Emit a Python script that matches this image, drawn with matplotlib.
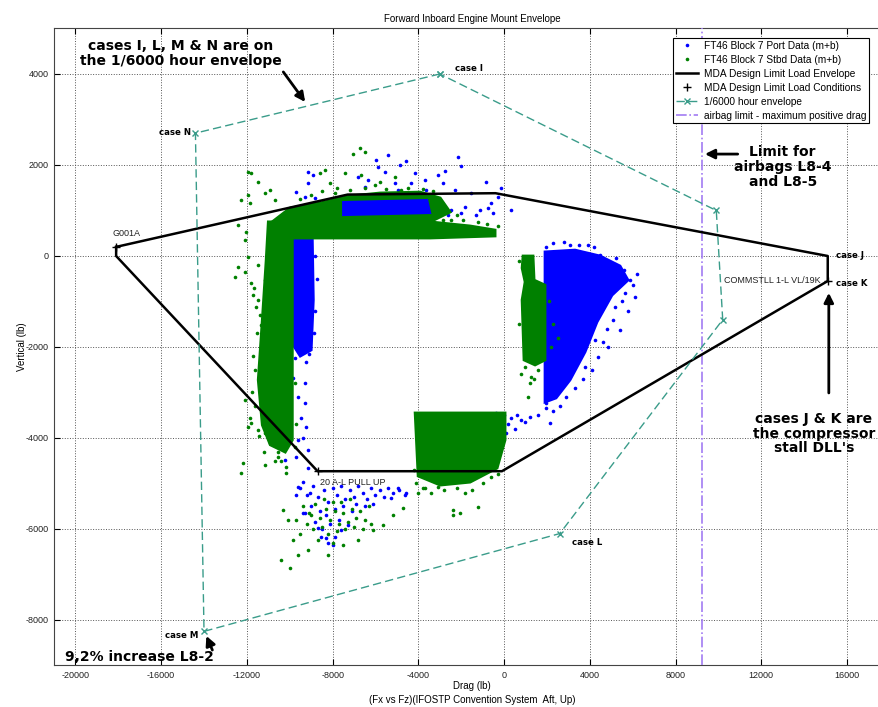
import matplotlib
matplotlib.use('Agg')
import matplotlib.pyplot as plt

plt.rcParams['font.family'] = ['Liberation Sans', 'DejaVu Sans']
plt.rcParams['axes.unicode_minus'] = False

# MDA design limit load envelope (lb)
dll_x = [-18100, -7300, -400, 15100, 15100, -100, -8700, -18100, -18100]
dll_y = [200, 1350, 1380, 0, -550, -4730, -4730, 0, 200]
# design limit load conditions
cond_x = [-18100, 15100, -8700]
cond_y = [200, -550, -4730]

# 1/6000 hour envelope (cases I, N, M, L ...)
hr_x = [-3000, -14400, -14000, 2600, 10200, 9900, -3000]
hr_y = [4000, 2700, -8250, -6100, -1400, 1000, 4000]

airbag_x = 9250

# dense regions of the flight data (outlines)
port_dense = [
    ([-9840, -8950, -8900, -9000, -9510, -9840], [440, 440, -965, -2065, -2200, -1955]),
    ([1910, 3310, 4475, 5410, 5780, 5035, 4335, 3775, 3075, 2425, 1910],
     [90, 130, 0, -220, -530, -860, -1450, -2110, -2725, -3120, -3210]),
]
port_band = ([-7510, -3590, -3450, -7510], [1185, 1230, 945, 900])
stbd_dense = [
    ([-11000, -9880, -9880, -10210, -10910, -11280, -11470, -11280, -11100],
     [750, 750, -4045, -4310, -4150, -3715, -2725, -1405, -90]),
    ([-10820, -9980, -8580, -7180, -5780, -3920, -2980, -2520, -3450, -1585, -420, -420, -3450, -9880, -9880],
     [750, 1055, 1165, 1320, 1385, 1405, 1275, 965, 750, 660, 570, 440, 395, 395, 660]),
    ([885, 1350, 1400, 1910, 1910, 1445, 930, 840, 980, 840],
     [0, 0, -530, -640, -2285, -2395, -2285, -965, -570, -265]),
    ([-4150, 45, 45, -325, -1585, -2980, -4010],
     [-3450, -3450, -4045, -4660, -4970, -5035, -4835]),
]

# scattered points, FT46 Block 7 port data (m+b)
port_x = [-5420, -2150, -2010, -4580, -5980, -4860, -5890, -4160, -2760, -3080,
          -9160, -8930, -5560, -6360, -5090, -4350, -3690, -3640, -2850, -2290,
          -1540, -840, -280, -140, 330, -610, -1820, -2480, -3080, -9720,
          -9300, -8830, -9160, -6820, -6500, -4950, -4160, -1120, -750,
          -7000, -6000, -5000, -4200, -3300, -2600, -2000, -1300, -500, -8000, -8500,
          -9770, -9860, -9630, -9300, -9490, -9250, -9630, -9160, -9720, -9390,
          -11360, -11030, -10090, -9300, -9250, -10230, -9160, -9390,
          -9630, -9070, -4950, -4580, -5280, -8690, -8220, -8550, -7620, -7290,
          -9390, -2760, -7900,
          -9500, -9200, -8900, -8700, -8400, -8200, -8000, -7800, -7600, -7400,
          -7200, -7000, -6800, -6600, -6400, -6200, -6000, -5800, -5600, -5400,
          -5200, -9000, -8600, -8300, -7900, -8800, -8500, -8100, -9300, -7700,
          -8300, -8000, -7500, -7100, -6900, -6500, -6100, -4900, -4600, -9700,
          1960, 3080, 3930, 4490, 5890, 6030, 5330, 5650, 5190, 5420,
          4250, 4860, 4390, 3790, 1960, 2150, 1220, 980, 1590, 5090,
          -400, 0, 300, 600, 800, -200, 200, 500, -300, 100, -1000, -700,
          -8800, -8750, -8800, -8850, -9100,
          4800, 5200, 5600, 6200, 6100, 5800, 5500, 4800, 4600, 4100,
          3700, 3300, 2900, 2600, 2300, 1950, 2800, 3500, 4200, 2300]
port_y = [2220, 2180, 1980, 2090, 2110, 2000, 1960, 1820, 1870, 1780,
          1850, 1780, 1850, 1670, 1600, 1600, 1670, 1450, 1600, 1450,
          1380, 1630, 1300, 1490, 1010, 1160, 1080, 1010, 1120, 1410,
          1300, 1270, 1600, 1740, 1520, 1450, 1340, 1010, 1060,
          1100, 1050, 1150, 1100, 1050, 900, 950, 900, 950, 1050, 1150,
          -2240, -2680, -3100, -3230, -3560, -3760, -4040, -4260, -4420, -4000,
          -2240, -1960, -2660, -2790, -2330, -4480, -4660, -4970,
          -5080, -5210, -5100, -5210, -5320, -5980, -6310, -6180, -6020, -5910,
          -5650, -4810, -6180,
          -5100, -5250, -5050, -5300, -5150, -5400, -5100, -5250, -5050, -5350,
          -5150, -5300, -5050, -5200, -5350, -5100, -5250, -5150, -5300, -5100,
          -5200, -5500, -5600, -5700, -5550, -5850, -6000, -5900, -5650, -5800,
          -6200, -6350, -5500, -5600, -5450, -5500, -5450, -5150, -5250, -5250,
          200, 240, 240, 20, -530, -640, -370, -810, -1120, -1630,
          -1850, -2000, -2220, -2440, -3230, -3670, -3540, -3650, -3490, -1410,
          -3450, -3500, -3550, -3500, -3600, -3650, -3700, -3800, -3800, -3900, -3550, -3700,
          0, -500, -1200, -1700, -2150,
          -100, -50, -300, -400, -900, -1200, -1000, -1600, -1900, -2500,
          -2700, -2900, -3100, -3300, -3400, -3350, 300, 250, 200, 280]

# scattered points, FT46 Block 7 stbd data (m+b)
stbd_x = [-7060, -6730, -6500, -11960, -11820, -11500, -12290, -11960, -11870, -10930,
          -11170, -10700, -8600, -8360, -8130, -7430, -6680, -7900, -12430, -12060,
          -12100, -11960, -12430, -12100, -11820, -11500, -12570, -11730, -11170,
          -2850, -2480, -1540, -650, -5090, -5790, -4810,
          -11590, -11400, -11360, -12100, -11960, -11820, -11500, -11170, -10930, -10560,
          -10560, -10190, -10190, -12200, -12290, -11170, -11870, -10790, -11360, -11120, -10930,
          -9400, -9100, -8800, -8600, -8300, -8100, -7900, -7700, -7500, -7300,
          -7100, -6900, -6700, -6500, -9200, -8900, -8500, -8200, -7800, -7400,
          -7000, -6600, -9000, -8000, -7600, -7200, -8400, -6300, -6200, -9700,
          -9500, -8700, -8000,
          -10090, -10330, -9860, -9630, -9160, -8220, -7520, -6820, -6120, -5650,
          -5190, -4720, -10000, -10420,
          -4020, -3690, -2380, -2060, -2380, -1210, -1820, -3080,
          980, 1260, 1120, 1220, 2100, 2300, 2500, 2200,
          -9500, -9000, -8500, -7800, -7200, -6500, -6000, -5500, -4500, -3800,
          -3300, -2200, -1900, -1200, -800, -300,
          -11500, -11650, -11550, -11700, -11600, -11750, -11600, -11450, -11200, -10700,
          -10400, -9750, -9700, -9750,
          -4100, -3800, -3400, -2800, -2200, -1500, -1000, -600, -300, -4200,
          700, 1500, 700, 1600, 800, 1400]
stbd_y = [2240, 2370, 2290, 1850, 1820, 1630, 1230, 1340, 1160, 1450,
          1380, 1230, 1820, 1890, 1600, 1820, 1780, 1380, 680, 530,
          350, -20, -240, -350, -590, -970, -460, -860, -530,
          790, 790, 620, 530, 1740, 1630, 1450,
          -1120, -1300, -1520, -3170, -3760, -3670, -3820, -3890, -4110, -4310,
          -4420, -4640, -4770, -4550, -4770, -4590, -3560, -3340, -2880, -2510, -3100,
          -5500, -5650, -5450, -5750, -5550, -5800, -5600, -5900, -5650, -5850,
          -5550, -5750, -5600, -5800, -5900, -6000, -5950, -6100, -6050, -6000,
          -5950, -6000, -5700, -5400, -5400, -5350, -5350, -5500, -5900, -5800,
          -6100, -6250, -6300,
          -5800, -5580, -6240, -6570, -6460, -6570, -6350, -6240, -6020, -5910,
          -5690, -5540, -6860, -6680,
          -5210, -5100, -5580, -5650, -5690, -5520, -5210, -5080,
          -2440, -2660, -3100, -2790, -1000, -1500, -1800, -2000,
          1250, 1350, 1420, 1500, 1450, 1500, 1550, 1480, 1500, 1480,
          1420, 900, 800, 750, 700, 650,
          -200, -700, -1700, -2200, -2500, -3000, -3300, -3950, -4300, -4500,
          -4500, -4200, -3700, -2800,
          -5000, -5100, -5200, -5150, -5100, -5150, -5000, -4850, -4800, -4700,
          -100, -700, -1500, -2500, -2600, -2700]

blue = '#0000ff'
green = '#008000'
teal = '#3a9c8a'
violet = '#a27cf2'

fig = plt.figure(figsize=(8.79, 7.07), dpi=100)
ax = fig.add_axes([0.0614, 0.0587, 0.951, 0.901])

for px, py in port_dense:
    ax.fill(px, py, color=blue, lw=2, zorder=2)
ax.plot(port_x, port_y, 'o', color=blue, ms=2.6, mew=0, zorder=2,
        label='FT46 Block 7 Port Data (m+b)')
for sx, sy in stbd_dense:
    ax.fill(sx, sy, color=green, lw=2, zorder=3)
ax.plot(stbd_x, stbd_y, 'o', color=green, ms=2.6, mew=0, zorder=3,
        label='FT46 Block 7 Stbd Data (m+b)')
ax.fill(port_band[0], port_band[1], color=blue, lw=1.5, zorder=3.5)

ax.plot(dll_x, dll_y, '-', color='black', lw=1.8, zorder=5,
        label='MDA Design Limit Load Envelope')
ax.plot(cond_x, cond_y, '+', color='black', ms=6, mew=1, zorder=5,
        label='MDA Design Limit Load Conditions')
ax.plot(hr_x, hr_y, '--x', color=teal, lw=1, ms=5, mew=1, dashes=(6, 3), zorder=5,
        label='1/6000 hour envelope')
ax.axvline(airbag_x, color=violet, ls='-.', lw=1.2, zorder=4,
           label='airbag limit - maximum positive drag')

ax.set_xlim(-21000, 18000)
ax.set_ylim(-9000, 5000)
ax.set_xticks(range(-20000, 18000, 4000))
ax.set_yticks(range(-8000, 5000, 2000))
ax.grid(True, ls=':', color='#555555', lw=0.7)
ax.tick_params(direction='in', top=True, right=True, length=4, labelsize=6.5,
               labelcolor='#222222', pad=4)
for sp in ax.spines.values():
    sp.set_color('#444444')

ax.set_title('Forward Inboard Engine Mount Envelope', fontsize=7, pad=5)
ax.set_xlabel('Drag (lb)\n(Fx vs Fz)(IFOSTP Convention System  Aft, Up)',
              fontsize=7, linespacing=1.4, labelpad=1)
ax.set_ylabel('Vertical (lb)', fontsize=7, labelpad=-1)

# small labels on the envelopes
small = dict(fontsize=6.5, color='#222222', zorder=6)
ax.text(-18250, 500, 'G001A', ha='left', va='center', **small)
ax.text(10250, -530, 'COMMSTLL 1-L VL/19K', ha='left', va='center', **small)
ax.text(-8580, -4970, '20 A-L PULL UP', ha='left', va='center', **small)
case = dict(fontsize=6.2, fontweight='bold', family='DejaVu Sans', zorder=6)
ax.text(-2280, 4130, 'case I', ha='left', va='center', **case)
ax.text(-14600, 2720, 'case N', ha='right', va='center', **case)
ax.text(-14250, -8350, 'case M', ha='right', va='center', **case)
ax.text(3170, -6290, 'case L', ha='left', va='center', **case)
ax.text(15480, 20, 'case J', ha='left', va='center', **case)
ax.text(15480, -615, 'case K', ha='left', va='center', **case)

# callouts
big = dict(fontsize=10, fontweight='bold', family='DejaVu Sans', ha='center',
           va='center', linespacing=1.05, zorder=7)
arrow = dict(arrowstyle='-|>', color='black', lw=2, mutation_scale=14,
             shrinkA=0, shrinkB=0)
ax.text(-15100, 4450, 'cases I, L, M & N are on\nthe 1/6000 hour envelope', **big)
ax.annotate('', xy=(-9280, 3385), xytext=(-10300, 4045), arrowprops=arrow, zorder=7)
ax.text(13000, 1955, 'Limit for\nairbags L8-4\nand L8-5', **big)
ax.annotate('', xy=(9370, 2240), xytext=(10900, 2240), arrowprops=arrow, zorder=7)
ax.text(14450, -3910, "cases J & K are\nthe compressor\nstall DLL's", **big)
ax.annotate('', xy=(15150, -810), xytext=(15150, -3010), arrowprops=arrow, zorder=7)
ax.text(-20470, -8810, '9,2% increase L8-2', fontsize=10, fontweight='bold',
        family='DejaVu Sans', ha='left', va='center', zorder=7)
ax.annotate('', xy=(-13890, -8350), xytext=(-13610, -8660), arrowprops=arrow, zorder=7)

leg = ax.legend(loc='upper left', bbox_to_anchor=(668 / 879, 1 - 33 / 707),
                bbox_transform=fig.transFigure, fontsize=7.3, frameon=True,
                fancybox=False, framealpha=1, edgecolor='black', labelspacing=0.4,
                handlelength=2.2, handletextpad=0.6, borderpad=0.25)
leg.get_frame().set_linewidth(0.8)
leg.set_zorder(10)

fig.savefig('out.png', dpi=100)
